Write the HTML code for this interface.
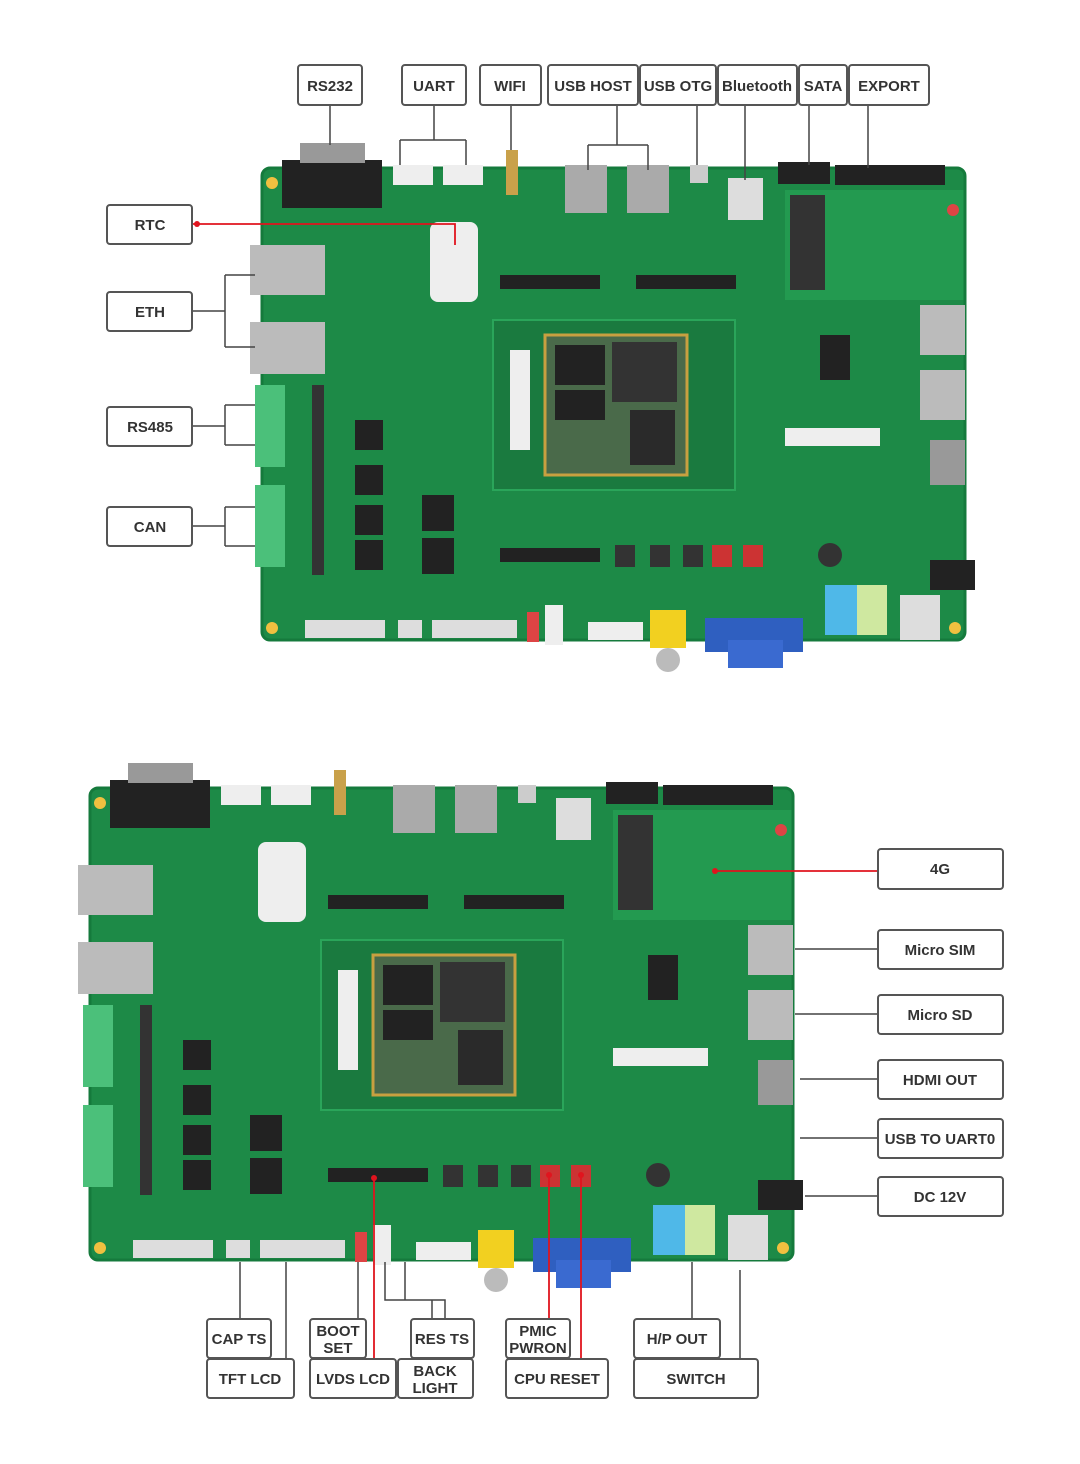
<!DOCTYPE html>
<html><head><meta charset="utf-8"><style>
html,body{margin:0;padding:0;background:#fff;}
svg{display:block;}
.lb{font-family:"Liberation Sans",sans-serif;font-weight:bold;font-size:15px;fill:#333;text-anchor:middle;}
</style></head><body>
<svg width="1080" height="1464" viewBox="0 0 1080 1464" xmlns="http://www.w3.org/2000/svg">
<defs>
<g id="b">
 <rect x="262" y="168" width="703" height="472" rx="8" fill="#1d8a47"/>
 <rect x="785" y="190" width="180" height="110" fill="#239a50"/>
 <rect x="262" y="168" width="703" height="472" rx="8" fill="none" stroke="#157a3c" stroke-width="3"/>
 <!-- db9 -->
 <rect x="282" y="160" width="100" height="48" fill="#222"/>
 <rect x="300" y="143" width="65" height="20" fill="#999"/>
 <!-- uart headers -->
 <rect x="393" y="165" width="40" height="20" fill="#eee"/>
 <rect x="443" y="165" width="40" height="20" fill="#eee"/>
 <!-- wifi -->
 <rect x="506" y="150" width="12" height="45" fill="#c9a14a"/>
 <!-- usb host -->
 <rect x="565" y="165" width="42" height="48" fill="#aaa"/>
 <rect x="627" y="165" width="42" height="48" fill="#aaa"/>
 <rect x="690" y="165" width="18" height="18" fill="#ccc"/>
 <rect x="728" y="178" width="35" height="42" fill="#ddd"/>
 <rect x="778" y="162" width="52" height="22" fill="#222"/>
 <rect x="835" y="165" width="110" height="20" fill="#222"/>
 <rect x="790" y="195" width="35" height="95" fill="#333"/>
 <!-- rtc -->
 <rect x="430" y="222" width="48" height="80" rx="8" fill="#eee"/>
 <!-- eth -->
 <rect x="250" y="245" width="75" height="50" fill="#bbb"/>
 <rect x="250" y="322" width="75" height="52" fill="#bbb"/>
 <!-- terminals -->
 <rect x="255" y="385" width="30" height="82" fill="#4bc07a"/>
 <rect x="255" y="485" width="30" height="82" fill="#4bc07a"/>
 <rect x="312" y="385" width="12" height="190" fill="#333"/>
 <!-- headers -->
 <rect x="500" y="275" width="100" height="14" fill="#222"/>
 <rect x="636" y="275" width="100" height="14" fill="#222"/>
 <rect x="500" y="548" width="100" height="14" fill="#222"/>
 <!-- core -->
 <rect x="493" y="320" width="242" height="170" fill="#1a7a3f" stroke="#2aa55a" stroke-width="2"/>
 <rect x="545" y="335" width="142" height="140" fill="#4a6a4a" stroke="#c8a040" stroke-width="3"/>
 <rect x="555" y="345" width="50" height="40" fill="#222"/>
 <rect x="612" y="342" width="65" height="60" fill="#333"/>
 <rect x="555" y="390" width="50" height="30" fill="#222"/>
 <rect x="630" y="410" width="45" height="55" fill="#2a2a2a"/>
 <rect x="510" y="350" width="20" height="100" fill="#eee"/>
 <!-- chips -->
 <rect x="355" y="420" width="28" height="30" fill="#222"/>
 <rect x="355" y="465" width="28" height="30" fill="#222"/>
 <rect x="355" y="505" width="28" height="30" fill="#222"/>
 <rect x="355" y="540" width="28" height="30" fill="#222"/>
 <rect x="422" y="495" width="32" height="36" fill="#222"/>
 <rect x="422" y="538" width="32" height="36" fill="#222"/>
 <rect x="820" y="335" width="30" height="45" fill="#222"/>
 <rect x="920" y="305" width="45" height="50" fill="#bbb"/>
 <rect x="920" y="370" width="45" height="50" fill="#bbb"/>
 <rect x="930" y="440" width="35" height="45" fill="#999"/>
 <rect x="785" y="428" width="95" height="18" fill="#eee"/>
 <!-- buttons -->
 <rect x="615" y="545" width="20" height="22" fill="#333"/>
 <rect x="650" y="545" width="20" height="22" fill="#333"/>
 <rect x="683" y="545" width="20" height="22" fill="#333"/>
 <rect x="712" y="545" width="20" height="22" fill="#c33"/>
 <rect x="743" y="545" width="20" height="22" fill="#c33"/>
 <!-- bottom connectors -->
 <rect x="305" y="620" width="80" height="18" fill="#ddd"/>
 <rect x="398" y="620" width="24" height="18" fill="#ddd"/>
 <rect x="432" y="620" width="85" height="18" fill="#ddd"/>
 <rect x="527" y="612" width="12" height="30" fill="#d44"/>
 <rect x="545" y="605" width="18" height="40" fill="#eee"/>
 <rect x="588" y="622" width="55" height="18" fill="#eee"/>
 <rect x="650" y="610" width="36" height="38" fill="#f2d020"/>
 <circle cx="668" cy="660" r="12" fill="#bbb"/>
 <rect x="705" y="618" width="98" height="34" fill="#2f5fc0"/>
 <rect x="728" y="640" width="55" height="28" fill="#3a6ad0"/>
 <rect x="825" y="585" width="32" height="50" fill="#4fb8e8"/>
 <rect x="857" y="585" width="30" height="50" fill="#cfe8a0"/>
 <rect x="930" y="560" width="45" height="30" fill="#222"/>
 <rect x="900" y="595" width="40" height="45" fill="#ddd"/>
 <circle cx="830" cy="555" r="12" fill="#333"/>
 <circle cx="272" cy="183" r="6" fill="#f0c040"/>
 <circle cx="272" cy="628" r="6" fill="#f0c040"/>
 <circle cx="955" cy="628" r="6" fill="#f0c040"/>
 <circle cx="953" cy="210" r="6" fill="#d44"/>
</g>
</defs>
<use href="#b"/>
<use href="#b" transform="translate(-172,620)"/>
<g fill="none" stroke="#444" stroke-width="1.5">
 <path d="M330 105V145M434 105V140M400 140H466M400 140V165M466 140V165M511 105V150M617 105V145M588 145H648M588 145V170M648 145V170M697 105V165M745 105V180M809 105V165M868 105V168"/>
 <path d="M192 311H225M225 275V347M225 275H255M225 347H255M192 426H225M225 405V445M225 405H255M225 445H255M192 526H225M225 507V546M225 507H255M225 546H255"/>
 <path d="M795 949H878M795 1014H878M800 1079H878M800 1138H878M805 1196H878"/>
 <path d="M240 1319V1262M286 1359V1262M358 1319V1262M432 1359V1300H385V1262M445 1319V1300H405V1262M692 1319V1262M740 1359V1270"/>
</g>
<g fill="none" stroke="#e0141e" stroke-width="1.8">
 <path d="M192 224H455V245M715 871H878M374 1359V1178M549 1319V1175M581 1359V1175"/>
</g>
<g fill="#e0141e"><circle cx="197" cy="224" r="3"/><circle cx="715" cy="871" r="3"/><circle cx="374" cy="1178" r="3"/><circle cx="549" cy="1175" r="3"/><circle cx="581" cy="1175" r="3"/></g>
<g fill="#fff" stroke="#555" stroke-width="2">
 <rect x="298" y="65" width="64" height="40" rx="3"/><rect x="402" y="65" width="64" height="40" rx="3"/><rect x="480" y="65" width="61" height="40" rx="3"/><rect x="548" y="65" width="90" height="40" rx="3"/><rect x="640" y="65" width="76" height="40" rx="3"/><rect x="718" y="65" width="79" height="40" rx="3"/><rect x="799" y="65" width="48" height="40" rx="3"/><rect x="849" y="65" width="80" height="40" rx="3"/>
 <rect x="107" y="205" width="85" height="39" rx="3"/><rect x="107" y="292" width="85" height="39" rx="3"/><rect x="107" y="407" width="85" height="39" rx="3"/><rect x="107" y="507" width="85" height="39" rx="3"/>
 <rect x="878" y="849" width="125" height="40" rx="3"/><rect x="878" y="930" width="125" height="39" rx="3"/><rect x="878" y="995" width="125" height="39" rx="3"/><rect x="878" y="1060" width="125" height="39" rx="3"/><rect x="878" y="1119" width="125" height="39" rx="3"/><rect x="878" y="1177" width="125" height="39" rx="3"/>
 <rect x="207" y="1319" width="64" height="39" rx="3"/><rect x="207" y="1359" width="87" height="39" rx="3"/><rect x="310" y="1319" width="56" height="39" rx="3"/><rect x="310" y="1359" width="86" height="39" rx="3"/><rect x="411" y="1319" width="63" height="39" rx="3"/><rect x="398" y="1359" width="75" height="39" rx="3"/><rect x="506" y="1319" width="64" height="39" rx="3"/><rect x="506" y="1359" width="102" height="39" rx="3"/><rect x="634" y="1319" width="86" height="39" rx="3"/><rect x="634" y="1359" width="124" height="39" rx="3"/>
</g>
<g class="lb">
 <text x="330" y="91">RS232</text><text x="434" y="91">UART</text><text x="510" y="91">WIFI</text><text x="593" y="91">USB HOST</text><text x="678" y="91">USB OTG</text><text x="757" y="91">Bluetooth</text><text x="823" y="91">SATA</text><text x="889" y="91">EXPORT</text>
 <text x="150" y="230">RTC</text><text x="150" y="317">ETH</text><text x="150" y="432">RS485</text><text x="150" y="532">CAN</text>
 <text x="940" y="874">4G</text><text x="940" y="955">Micro SIM</text><text x="940" y="1020">Micro SD</text><text x="940" y="1085">HDMI OUT</text><text x="940" y="1144">USB TO UART0</text><text x="940" y="1202">DC 12V</text>
 <text x="239" y="1344">CAP TS</text><text x="250" y="1384">TFT LCD</text><text x="338" y="1336">BOOT</text><text x="338" y="1353">SET</text><text x="353" y="1384">LVDS LCD</text><text x="442" y="1344">RES TS</text><text x="435" y="1376">BACK</text><text x="435" y="1393">LIGHT</text><text x="538" y="1336">PMIC</text><text x="538" y="1353">PWRON</text><text x="557" y="1384">CPU RESET</text><text x="677" y="1344">H/P OUT</text><text x="696" y="1384">SWITCH</text>
</g>
</svg>
</body></html>
